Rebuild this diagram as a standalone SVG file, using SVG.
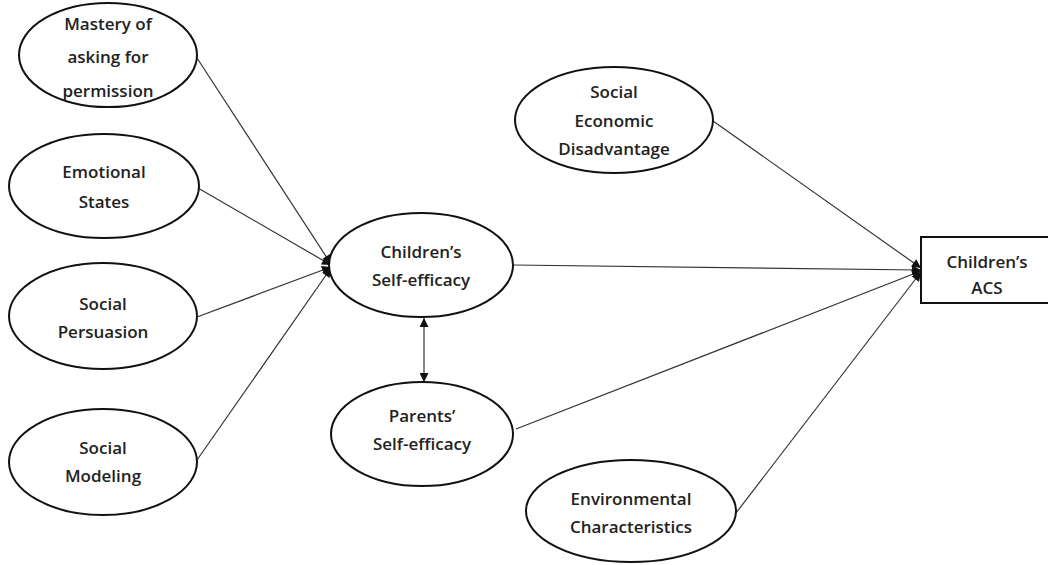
<svg xmlns="http://www.w3.org/2000/svg" width="1048" height="565" viewBox="0 0 1048 565">
  <defs>
    <marker id="head" viewBox="0 0 10 10" refX="10" refY="5" markerWidth="11" markerHeight="9" markerUnits="userSpaceOnUse" orient="auto-start-reverse">
      <path d="M0,0 L10,5 L0,10 Z" fill="#111"/>
    </marker>
    <style>
      .node ellipse, .node rect { fill: #fff; stroke: #111; stroke-width: 2; }
      .node text { font-family: "Open Sans", "Liberation Sans", sans-serif; font-size: 17px; font-weight: 600; fill: #222; text-anchor: middle; }
      .edge { stroke: #333; stroke-width: 1.2; fill: none; marker-end: url(#head); }
      .both { marker-start: url(#head); }
    </style>
  </defs>
  <rect width="1048" height="565" fill="#fff"/>

  <!-- connectors -->
  <g id="connectors">
    <line class="edge" x1="197" y1="58" x2="331" y2="264"/>
    <line class="edge" x1="198" y1="188" x2="331" y2="265"/>
    <line class="edge" x1="197" y1="317" x2="331" y2="267"/>
    <line class="edge" x1="197" y1="460" x2="331" y2="268"/>
    <line class="edge" x1="513" y1="265" x2="921" y2="270"/>
    <line class="edge" x1="713" y1="121" x2="921" y2="268"/>
    <line class="edge" x1="516" y1="429" x2="921" y2="271"/>
    <line class="edge" x1="736" y1="513" x2="921" y2="272"/>
    <line class="edge both" x1="424" y1="318" x2="424" y2="382"/>
  </g>

  <!-- source constructs -->
  <g id="mastery" class="node">
    <ellipse cx="108" cy="55" rx="89" ry="52"/>
    <text x="108" y="30">Mastery of</text>
    <text x="108" y="63">asking for</text>
    <text x="108" y="97">permission</text>
  </g>
  <g id="emotional" class="node">
    <ellipse cx="104" cy="186" rx="95" ry="52"/>
    <text x="104" y="178">Emotional</text>
    <text x="104" y="208">States</text>
  </g>
  <g id="persuasion" class="node">
    <ellipse cx="103" cy="316" rx="94" ry="53"/>
    <text x="103" y="310">Social</text>
    <text x="103" y="338">Persuasion</text>
  </g>
  <g id="modeling" class="node">
    <ellipse cx="103" cy="462" rx="94" ry="53"/>
    <text x="103" y="454">Social</text>
    <text x="103" y="482">Modeling</text>
  </g>

  <!-- mediators -->
  <g id="children-se" class="node">
    <ellipse cx="421" cy="265" rx="92" ry="52"/>
    <text x="421" y="258">Children’s</text>
    <text x="421" y="286">Self-efficacy</text>
  </g>
  <g id="parents-se" class="node">
    <ellipse cx="422" cy="434" rx="91" ry="52"/>
    <text x="422" y="422">Parents’</text>
    <text x="422" y="450">Self-efficacy</text>
  </g>

  <!-- contextual factors -->
  <g id="ses" class="node">
    <ellipse cx="614" cy="120" rx="99" ry="53"/>
    <text x="614" y="98">Social</text>
    <text x="614" y="127">Economic</text>
    <text x="614" y="155">Disadvantage</text>
  </g>
  <g id="environment" class="node">
    <ellipse cx="631" cy="511" rx="105" ry="51"/>
    <text x="631" y="505">Environmental</text>
    <text x="631" y="533">Characteristics</text>
  </g>

  <!-- outcome -->
  <g id="acs" class="node">
    <rect x="921" y="237" width="140" height="66"/>
    <text x="987" y="268">Children’s</text>
    <text x="987" y="294">ACS</text>
  </g>
</svg>
